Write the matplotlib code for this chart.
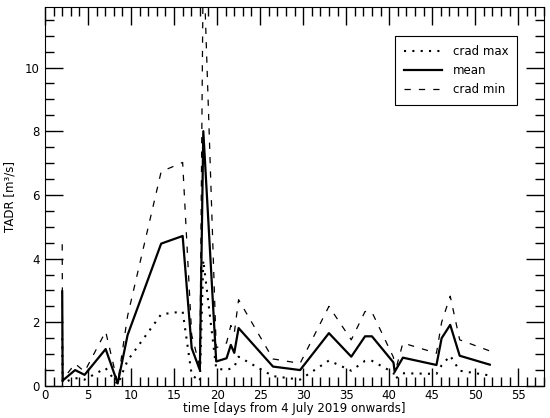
import matplotlib
matplotlib.use('Agg')
import matplotlib.pyplot as plt
from matplotlib.ticker import MultipleLocator

plt.rcParams['font.family'] = 'DejaVu Sans'
plt.rcParams['font.size'] = 8.5

# days from 4 July 2019
days = [2.0, 2.05, 3.5, 4.6, 7.05, 8.45, 9.6, 13.5, 16.0, 17.05, 18.0, 18.4,
        19.9, 21.1, 21.6, 22.0, 22.5, 26.5, 29.65, 33.0, 35.6, 37.2, 38.0,
        40.5, 40.65, 41.6, 45.5, 46.1, 47.1, 48.2, 51.7]

crad_max = [1.5, 0.1, 0.25, 0.2, 0.56, 0.05, 0.8, 2.25, 2.34, 0.35, 0.15, 3.95,
            0.55, 0.5, 0.55, 0.6, 0.92, 0.31, 0.2, 0.8, 0.48, 0.79, 0.79,
            0.42, 0.22, 0.4, 0.38, 0.65, 0.95, 0.48, 0.33]

mean = [2.97, 0.17, 0.5, 0.35, 1.16, 0.08, 1.6, 4.47, 4.71, 1.19, 0.5, 8.0,
        0.77, 0.87, 1.29, 1.04, 1.82, 0.61, 0.5, 1.66, 0.92, 1.56, 1.56,
        0.74, 0.45, 0.89, 0.66, 1.5, 1.92, 0.95, 0.67]

crad_min = [4.45, 0.2, 0.7, 0.45, 1.71, 0.1, 2.2, 6.73, 7.02, 1.6, 0.6, 13.6,
            1.2, 1.35, 1.9, 1.66, 2.71, 0.85, 0.71, 2.5, 1.45, 2.34, 2.32,
            0.9, 0.4, 1.35, 1.03, 2.0, 2.82, 1.45, 1.1]

fig = plt.figure(figsize=(5.5, 4.18), dpi=100)
ax = fig.add_axes([45/550, 32/418, 499/550, 379/418])

ax.plot(days, crad_max, color='k', lw=1.5, linestyle=(0, (1, 3)), label='crad max')
ax.plot(days, mean, color='k', lw=1.6, label='mean')
ax.plot(days, crad_min, color='k', lw=0.9, linestyle=(0, (5, 6.5)), label='crad min')

ax.set_xlim(0, 58)
ax.set_ylim(0, 11.9)
ax.xaxis.set_major_locator(MultipleLocator(5))
ax.xaxis.set_minor_locator(MultipleLocator(1))
ax.yaxis.set_major_locator(MultipleLocator(2))
ax.yaxis.set_minor_locator(MultipleLocator(0.5))
ax.tick_params(which='both', direction='in', top=True, right=True, width=1)
ax.tick_params(which='major', length=13)
ax.tick_params(which='minor', length=6.5)
ax.tick_params(axis='x', pad=2)
ax.tick_params(axis='y', pad=4)
for s in ax.spines.values():
    s.set_linewidth(0.8)

ax.set_xlabel('time [days from 4 July 2019 onwards]', labelpad=0)
ax.set_ylabel('TADR [m\u00b3/s]', labelpad=6)

leg = ax.legend(loc='upper right', bbox_to_anchor=(0.946, 0.923), borderaxespad=0,
                fancybox=False, edgecolor='k', framealpha=1, handlelength=3.2,
                handletextpad=0.9, borderpad=0.75, labelspacing=0.5)
leg.get_frame().set_linewidth(0.8)

plt.savefig('out.png', dpi=100)
